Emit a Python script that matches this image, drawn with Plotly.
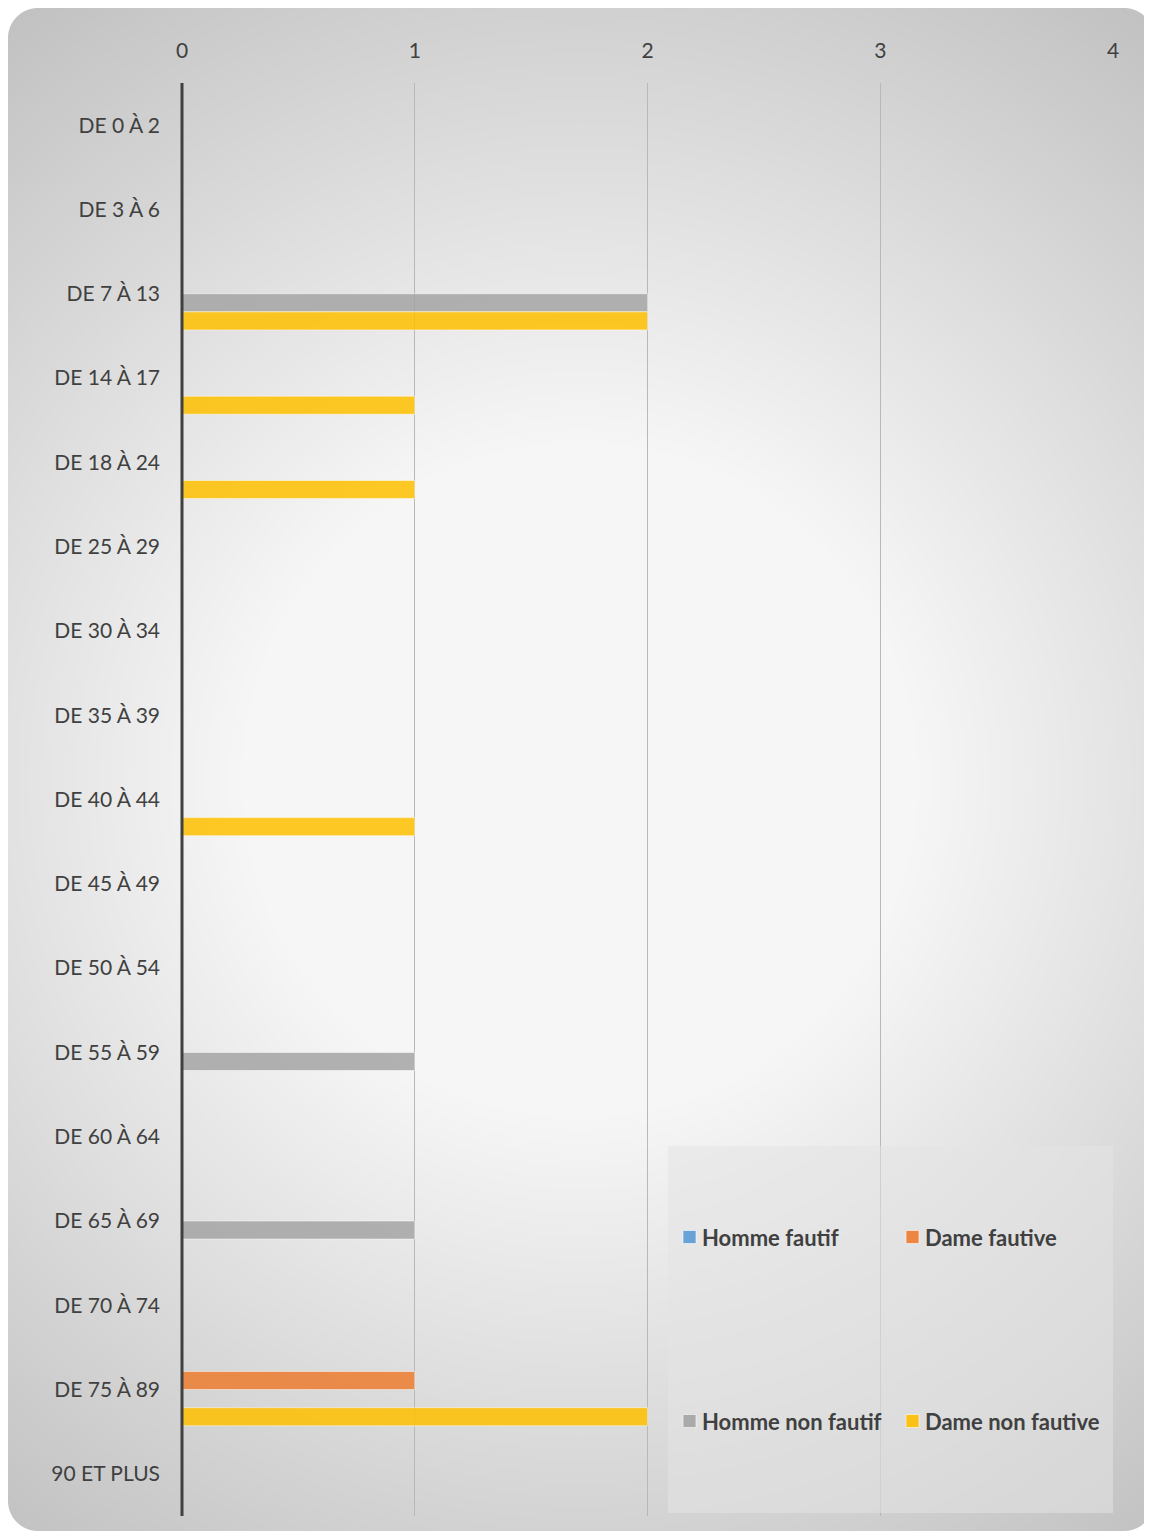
import base64
import struct
import zlib

import numpy as np
import plotly.graph_objects as go

# ---- data ----
categories = [
    "DE 0 À 2", "DE 3 À 6", "DE 7 À 13", "DE 14 À 17", "DE 18 À 24",
    "DE 25 À 29", "DE 30 À 34", "DE 35 À 39", "DE 40 À 44", "DE 45 À 49",
    "DE 50 À 54", "DE 55 À 59", "DE 60 À 64", "DE 65 À 69", "DE 70 À 74",
    "DE 75 À 89", "90 ET PLUS",
]
series_names = ["Homme fautif", "Dame fautive", "Homme non fautif", "Dame non fautive"]
homme_fautif     = [0, 0, 0, 0, 0, 0, 0, 0, 0, 0, 0, 0, 0, 0, 0, 0, 0]
dame_fautive     = [0, 0, 0, 0, 0, 0, 0, 0, 0, 0, 0, 0, 0, 0, 0, 1, 0]
homme_non_fautif = [0, 0, 2, 0, 0, 0, 0, 0, 0, 0, 0, 1, 0, 1, 0, 0, 0]
dame_non_fautive = [0, 0, 2, 1, 1, 0, 0, 0, 1, 0, 0, 0, 0, 0, 0, 2, 0]
x_ticks = [0, 1, 2, 3, 4]

COLORS = ["#5B9BD5", "#ED7D31", "#A5A5A5", "#FFC000"]
TEXT = "#404040"
FONT = "Lato"

# ---- geometry (pixels, figure coords; page adds an 8px body margin) ----
W, H = 1144, 1523
L, R, T, B = 174, 39, 75, 15
PW, PH = W - L - R, H - T - B


def px(x):
    return (x - L) / PW


def py(y):
    return 1 - (y - T) / PH


## Background: radial grey gradient inside a rounded card
def make_background():
    ys, xs = np.mgrid[0:H, 0:W].astype(float) + 0.5
    r = np.hypot(xs - 572, ys - 772)
    val = 246 - 0.085 * np.clip(r - 333, 0, None)
    # rounded rect mask covering the figure, radius 30
    x0, y0, x1, y1, rad = 0, 0, 1146, 1523, 30
    cx, cy = (x0 + x1) / 2, (y0 + y1) / 2
    qx = np.abs(xs - cx) - ((x1 - x0) / 2 - rad)
    qy = np.abs(ys - cy) - ((y1 - y0) / 2 - rad)
    dist = np.hypot(np.maximum(qx, 0), np.maximum(qy, 0)) + np.minimum(np.maximum(qx, qy), 0) - rad
    cov = np.clip(0.5 - dist, 0, 1)
    img = np.round(val * cov + 255 * (1 - cov)).astype(np.int16)
    # PNG, greyscale, "Sub" filter for good compression
    sub = img.copy()
    sub[:, 1:] = (img[:, 1:] - img[:, :-1]) % 256
    sub = sub.astype(np.uint8)
    raw = b"".join(b"\x01" + sub[i].tobytes() for i in range(H))

    def chunk(tag, data):
        return struct.pack(">I", len(data)) + tag + data + struct.pack(">I", zlib.crc32(tag + data) & 0xFFFFFFFF)

    png = b"\x89PNG\r\n\x1a\n"
    png += chunk(b"IHDR", struct.pack(">IIBBBBB", W, H, 8, 0, 0, 0, 0))
    png += chunk(b"IDAT", zlib.compress(raw, 9))
    png += chunk(b"IEND", b"")
    return "data:image/png;base64," + base64.b64encode(png).decode()


fig = go.Figure()
for name, vals, color in zip(series_names,
                             [homme_fautif, dame_fautive, homme_non_fautif, dame_non_fautive],
                             COLORS):
    fig.add_trace(go.Bar(
        y=categories, x=vals, name=name, orientation="h",
        marker=dict(color=color, opacity=0.85,
                    line=dict(color="rgba(255,255,255,0.55)", width=1)),
        showlegend=False,
    ))

# dark value-axis line at x = 0 (paper ref so it is not clipped)
shapes = [dict(
    type="line", xref="paper", yref="paper", x0=0, x1=0, y0=0, y1=1,
    line=dict(color="#404040", width=3), layer="above",
)]

## Manual 2x2 legend
shapes.append(dict(
    type="rect", xref="paper", yref="paper",
    x0=px(660), x1=px(1105), y0=py(1138), y1=py(1505),
    fillcolor="rgba(228,228,228,0.55)", line_width=0, layer="above",
))
annotations = []
legend_pos = [(675, 1229), (898, 1229), (675, 1413), (898, 1413)]
for name, color, (lx, ly) in zip(series_names, COLORS, legend_pos):
    shapes.append(dict(
        type="rect", xref="paper", yref="paper",
        x0=px(lx), x1=px(lx + 13), y0=py(ly + 6.5), y1=py(ly - 6.5),
        fillcolor=color, opacity=0.9, line=dict(color="rgba(255,255,255,0.6)", width=1),
        layer="above",
    ))
    annotations.append(dict(
        text=f"<b>{name}</b>", xref="paper", yref="paper",
        x=px(lx + 17), y=py(ly), xanchor="left", yanchor="middle",
        showarrow=False, font=dict(family=FONT, size=22, color=TEXT),
    ))

fig.update_layout(
    width=W, height=H,
    margin=dict(l=L, r=R, t=T, b=B, pad=0),
    paper_bgcolor="white",
    plot_bgcolor="rgba(0,0,0,0)",
    barmode="group", bargap=0.14, bargroupgap=0,
    font=dict(family=FONT, color=TEXT, size=21),
    xaxis=dict(
        side="top", range=[0, 4], tickvals=x_ticks, ticktext=[str(t) for t in x_ticks],
        showgrid=True, gridcolor="#b8b8b8", gridwidth=1,
        zeroline=False, showline=False, ticks="", ticklabelstandoff=20,
        tickfont=dict(size=21, color=TEXT), fixedrange=True,
    ),
    yaxis=dict(
        autorange="reversed", showgrid=False, zeroline=False, showline=False,
        ticks="", ticklabelstandoff=21, tickfont=dict(size=21, color=TEXT),
    ),
    images=[dict(
        source=make_background(), xref="paper", yref="paper",
        x=px(0), y=py(0), sizex=W / PW, sizey=H / PH,
        xanchor="left", yanchor="top", sizing="stretch", layer="below",
    )],
    shapes=shapes,
    annotations=annotations,
)

fig.write_html("out.html")
